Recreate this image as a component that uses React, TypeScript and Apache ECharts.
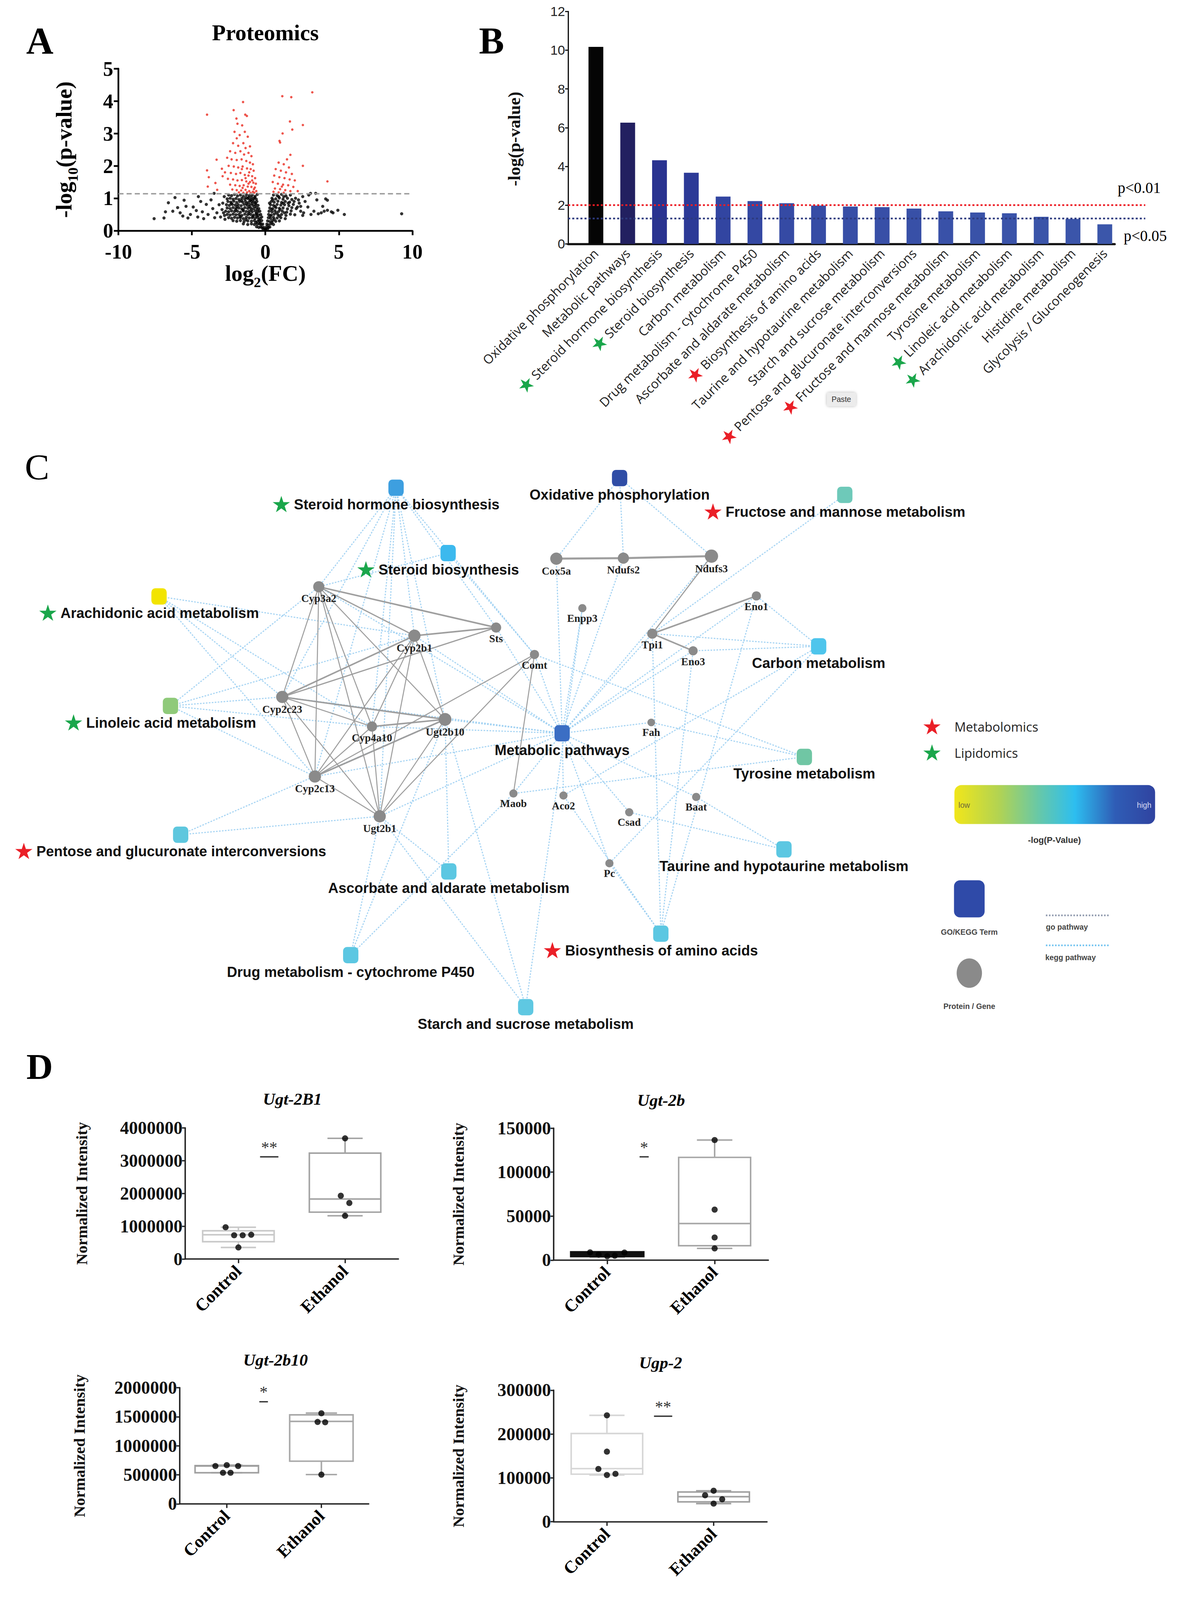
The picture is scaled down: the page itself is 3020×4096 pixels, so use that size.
import React, { useEffect, useRef } from "react";
import * as echarts from "echarts";

const W = 3020;
const H = 4096;
const K = W / 1156;
const f = (s: number) => s * K;

const SERIF = "'Liberation Serif', 'Times New Roman', serif";
const SANS = "'Liberation Sans', Arial, sans-serif";
const NARROW = "'Liberation Sans Narrow', 'Liberation Sans', Arial, sans-serif";
const OPEN = "'Open Sans', 'Noto Sans', sans-serif";
const STARF = "'DejaVu Sans', sans-serif";
const GREEN = "#1aa64b";
const RED = "#ea1f27";

// ---------------- Panel A : volcano ----------------
const volcanoThreshold = 1.14;
const volcanoSignificant: number[][] = [
  [-3.97, 3.58], [-2.16, 3.72], [-1.52, 3.97], [-1.97, 3.46], [-1.37, 3.58], [-1.26, 3.54], [-1.9, 3.3], [-1.58, 3.25],
  [-3.32, 2.19], [-3.97, 1.86], [-3.85, 1.65], [-3.92, 1.36], [-3.28, 1.26], [-2.96, 1.91], [-2.91, 1.68], [-3.4, 1.47],
  [-2.1, 3.05], [-1.95, 2.85], [-1.75, 2.95], [-1.4, 3.05], [-1.2, 2.9], [-2.2, 2.7], [-1.85, 2.62], [-1.5, 2.7], [-1.35, 2.55],
  [-1.05, 2.6], [-2.4, 2.45], [-2.05, 2.4], [-1.7, 2.45], [-1.45, 2.35], [-1.15, 2.4], [-0.95, 2.3],
  [-2.6, 2.25], [-2.3, 2.2], [-1.95, 2.18], [-1.62, 2.2], [-1.3, 2.15], [-1.05, 2.1], [-0.85, 2.05],
  [-2.5, 2.0], [-2.15, 1.98], [-1.85, 1.95], [-1.55, 1.98], [-1.25, 1.92], [-1.0, 1.9], [-0.8, 1.85],
  [-2.75, 1.8], [-2.35, 1.78], [-2.0, 1.75], [-1.7, 1.78], [-1.4, 1.72], [-1.15, 1.7], [-0.9, 1.68], [-0.7, 1.62],
  [-2.55, 1.6], [-2.2, 1.58], [-1.9, 1.55], [-1.6, 1.56], [-1.3, 1.52], [-1.05, 1.5], [-0.82, 1.48], [-0.65, 1.45],
  [-2.4, 1.42], [-2.05, 1.4], [-1.75, 1.38], [-1.48, 1.4], [-1.2, 1.36], [-0.95, 1.35], [-0.72, 1.33],
  [-2.25, 1.27], [-1.95, 1.25], [-1.65, 1.24], [-1.35, 1.26], [-1.1, 1.22], [-0.85, 1.2], [-0.62, 1.22],
  [-1.8, 1.18], [-1.5, 1.17], [-1.25, 1.18], [-1.0, 1.16], [-0.75, 1.17],
  [-1.6, 1.9], [-1.1, 1.8], [-1.35, 1.62], [-0.9, 1.55], [-1.55, 1.32], [-1.15, 1.45], [-0.78, 1.28],
  [1.15, 4.15], [1.76, 4.12], [3.19, 4.27], [1.67, 3.37], [2.55, 3.26], [1.83, 3.12], [1.17, 3.0], [0.96, 2.77], [1.0, 2.72],
  [2.55, 2.0], [4.22, 1.52], [1.7, 2.34], [1.47, 2.2],
  [0.9, 2.1], [1.25, 2.05], [1.6, 1.95], [0.7, 1.9], [1.05, 1.85], [1.4, 1.8], [1.8, 1.75], [0.6, 1.7], [0.95, 1.65],
  [1.3, 1.62], [1.65, 1.58], [2.0, 1.55], [0.5, 1.5], [0.85, 1.45], [1.2, 1.42], [1.55, 1.4], [1.9, 1.35], [0.65, 1.3],
  [1.0, 1.28], [1.35, 1.25], [1.7, 1.22], [0.55, 1.2], [0.9, 1.18], [1.25, 1.17], [2.2, 1.22], [1.12, 1.36],
];
const volcanoOther: number[][] = [
  [-7.57, 0.37], [-6.9, 0.39], [-6.6, 0.86], [-6.15, 1.02], [-5.97, 0.71], [-5.53, 0.94], [-5.62, 0.45], [-5.27, 0.39],
  [-4.91, 0.73], [-4.56, 1.05], [-4.29, 0.58], [-4.2, 0.37], [-4.02, 0.81], [-3.58, 0.68], [-3.49, 1.15], [-3.05, 0.42],
  [-2.78, 0.47], [9.27, 0.52], [5.37, 0.5], [4.93, 0.63], [4.22, 0.94], [4.22, 0.63], [4.49, 0.58], [3.6, 0.52],
  [3.42, 1.15], [3.07, 1.15], [2.54, 1.05], [2.54, 0.47], [2.18, 0.73], [2.89, 0.73],
  [-6.3, 0.6], [-5.8, 0.55], [-5.1, 0.5], [-4.7, 0.62], [-4.4, 0.9], [-3.9, 0.5], [-3.7, 0.95], [-3.3, 0.55],
  [-3.15, 0.8], [-2.95, 0.65], [-3.45, 0.4], [-4.6, 0.42], [-6.8, 0.58], [-5.4, 0.75],
  [2.7, 0.9], [2.95, 1.1], [3.3, 0.6], [3.8, 0.55], [4.0, 0.6], [4.6, 0.55], [3.1, 0.5], [2.4, 0.6], [2.3, 0.85],
  [2.05, 1.0], [2.6, 0.55], [3.5, 0.95], [4.1, 0.98], [3.9, 0.75],
  [-2.5, 1.1], [-2.3, 1.08], [-2.1, 1.12], [-1.9, 1.07], [-1.7, 1.1], [-1.5, 1.06], [-1.3, 1.11], [-1.1, 1.08], [-0.9, 1.1], [-0.7, 1.06], [-0.55, 1.12],
  [-2.6, 0.98], [-2.4, 1.0], [-2.2, 0.97], [-2.0, 0.99], [-1.8, 0.96], [-1.6, 1.0], [-1.4, 0.97], [-1.2, 0.99], [-1.0, 0.96], [-0.8, 0.99], [-0.62, 0.97],
  [-2.55, 0.9], [-2.35, 0.88], [-2.15, 0.91], [-1.95, 0.87], [-1.75, 0.9], [-1.55, 0.88], [-1.35, 0.9], [-1.15, 0.87], [-0.95, 0.9], [-0.75, 0.88], [-0.58, 0.9],
  [-2.65, 0.8], [-2.45, 0.78], [-2.25, 0.81], [-2.05, 0.79], [-1.85, 0.8], [-1.65, 0.77], [-1.45, 0.81], [-1.25, 0.79], [-1.05, 0.8], [-0.85, 0.78], [-0.65, 0.81], [-0.5, 0.78],
  [-2.6, 0.7], [-2.4, 0.68], [-2.2, 0.71], [-2.0, 0.69], [-1.8, 0.7], [-1.6, 0.67], [-1.4, 0.71], [-1.2, 0.69], [-1.0, 0.7], [-0.8, 0.68], [-0.6, 0.71], [-0.45, 0.68],
  [-2.7, 0.6], [-2.5, 0.58], [-2.3, 0.61], [-2.1, 0.59], [-1.9, 0.6], [-1.7, 0.57], [-1.5, 0.61], [-1.3, 0.59], [-1.1, 0.6], [-0.9, 0.58], [-0.7, 0.61], [-0.5, 0.58], [-0.38, 0.6],
  [-2.6, 0.5], [-2.4, 0.48], [-2.2, 0.51], [-2.0, 0.49], [-1.8, 0.5], [-1.6, 0.47], [-1.4, 0.51], [-1.2, 0.49], [-1.0, 0.5], [-0.8, 0.48], [-0.6, 0.51], [-0.45, 0.48], [-0.32, 0.5],
  [-2.5, 0.4], [-2.3, 0.38], [-2.1, 0.41], [-1.9, 0.39], [-1.7, 0.4], [-1.5, 0.37], [-1.3, 0.41], [-1.1, 0.39], [-0.9, 0.4], [-0.7, 0.38], [-0.52, 0.41], [-0.35, 0.38], [-0.25, 0.42],
  [-2.2, 0.31], [-1.95, 0.29], [-1.7, 0.31], [-1.45, 0.28], [-1.2, 0.3], [-0.95, 0.29], [-0.75, 0.31], [-0.55, 0.28], [-0.4, 0.3], [-0.25, 0.31],
  [-1.5, 0.21], [-1.2, 0.19], [-0.95, 0.21], [-0.75, 0.19], [-0.55, 0.2], [-0.4, 0.21], [-0.28, 0.18], [-0.18, 0.2],
  [-0.6, 0.12], [-0.45, 0.1], [-0.32, 0.11], [-0.22, 0.09], [-0.12, 0.1], [-0.05, 0.05], [0.05, 0.06], [0.0, 0.02], [-0.15, 0.04], [0.15, 0.05],
  [-1.15, 1.02], [-0.95, 1.03], [-0.72, 1.02], [-1.05, 0.93], [-0.85, 0.94], [-0.68, 0.85], [-0.9, 0.84], [-1.1, 0.74], [-0.72, 0.75],
  [-0.55, 0.64], [-0.95, 0.64], [-0.62, 0.54], [-0.85, 0.44], [-0.6, 0.45], [-0.45, 0.34], [-0.65, 0.25], [-0.35, 0.24],
  [-2.85, 0.55], [-2.9, 0.85], [-2.8, 1.05], [-2.75, 0.35],
  [-1.32, 1.02], [-1.62, 0.93], [-1.28, 0.84], [-1.92, 0.74], [-1.52, 0.64], [-1.12, 0.54], [-1.72, 0.44], [-1.32, 0.34], [-2.02, 0.64], [-2.32, 0.84],
  [0.55, 1.1], [0.8, 1.08], [1.1, 1.12], [1.4, 1.07], [1.7, 1.1],
  [0.45, 1.0], [0.7, 0.98], [0.95, 1.01], [1.2, 0.97], [1.5, 1.0], [1.8, 0.96],
  [0.4, 0.9], [0.6, 0.88], [0.85, 0.91], [1.1, 0.87], [1.35, 0.9], [1.65, 0.88], [1.95, 0.9],
  [0.35, 0.8], [0.55, 0.78], [0.8, 0.81], [1.05, 0.79], [1.3, 0.8], [1.6, 0.77], [1.9, 0.81],
  [0.3, 0.7], [0.5, 0.68], [0.72, 0.71], [0.95, 0.69], [1.2, 0.7], [1.5, 0.67], [1.8, 0.71], [2.1, 0.68],
  [0.25, 0.6], [0.45, 0.58], [0.65, 0.61], [0.9, 0.59], [1.15, 0.6], [1.45, 0.57], [1.75, 0.61],
  [0.22, 0.5], [0.4, 0.48], [0.6, 0.51], [0.85, 0.49], [1.1, 0.5], [1.4, 0.47], [1.7, 0.51], [2.0, 0.49],
  [0.2, 0.4], [0.35, 0.38], [0.55, 0.41], [0.8, 0.39], [1.05, 0.4], [1.35, 0.37],
  [0.15, 0.3], [0.3, 0.28], [0.48, 0.31], [0.7, 0.29], [0.95, 0.3],
  [0.1, 0.2], [0.22, 0.18], [0.38, 0.21], [0.55, 0.19], [0.08, 0.12], [0.2, 0.1], [0.3, 0.11],
  [0.5, 0.95], [0.65, 0.75], [0.42, 0.65], [0.75, 0.55], [0.33, 0.45], [0.6, 0.35], [0.28, 0.85], [0.9, 1.05],
  [1.25, 1.05], [1.55, 0.85], [2.25, 0.95], [2.4, 0.75], [1.2, 0.85], [1.0, 0.65], [1.3, 0.55], [0.95, 0.45], [0.45, 0.25],
];

// ---------------- Panel B : enrichment bars ----------------
const pathwayNames = [
  "Oxidative phosphorylation", "Metabolic pathways", "Steroid hormone biosynthesis", "Steroid biosynthesis",
  "Carbon metabolism", "Drug metabolism - cytochrome P450", "Ascorbate and aldarate metabolism",
  "Biosynthesis of amino acids", "Taurine and hypotaurine metabolism", "Starch and sucrose metabolism",
  "Pentose and glucuronate interconversions", "Fructose and mannose metabolism", "Tyrosine metabolism",
  "Linoleic acid metabolism", "Arachidonic acid metabolism", "Histidine metabolism", "Glycolysis / Gluconeogenesis",
];
const pathwayScores = [10.17, 6.26, 4.32, 3.67, 2.44, 2.21, 2.1, 1.98, 1.93, 1.9, 1.82, 1.68, 1.62, 1.58, 1.4, 1.29, 1.01];
const pathwayBarColors = [
  "#050505", "#222060", "#2a3390", "#2c3a97", "#3245a1", "#3448a3", "#354aa4", "#364ca5", "#374ea6",
  "#384fa7", "#3850a7", "#3951a8", "#3952a8", "#3a53a9", "#3a54a9", "#3b55aa", "#3b56aa",
];
const lipidomicsPathwayIdx = [2, 3, 13, 14];
const metabolomicsPathwayIdx = [7, 10, 11];
const pCutoffValues = [2, 1.31];
const pCutoffLabels = ["p<0.01", "p<0.05"];
const bTicks = { max: 12, step: 2 };

// ---------------- Panel C : network ----------------
// [name, x, y, colour, omics mark]
const termNodes: [string, number, number, string, string][] = [
  ["Oxidative phosphorylation", 607, 468.5, "#2f4da6", ""],
  ["Steroid hormone biosynthesis", 388, 478, "#3d9fe0", "l"],
  ["Fructose and mannose metabolism", 827.6, 485, "#6ec9b9", "m"],
  ["Steroid biosynthesis", 439, 542, "#3cb9ee", "l"],
  ["Arachidonic acid metabolism", 155.8, 584.5, "#f2e400", "l"],
  ["Carbon metabolism", 802, 633.4, "#4ec5ec", ""],
  ["Linoleic acid metabolism", 167, 691.8, "#8fca7a", "l"],
  ["Metabolic pathways", 550.7, 718.6, "#3b6ec4", ""],
  ["Tyrosine metabolism", 788, 741.8, "#70c6a4", ""],
  ["Pentose and glucuronate interconversions", 177, 818, "#5ec7de", "m"],
  ["Taurine and hypotaurine metabolism", 768, 832.4, "#5cc7e2", ""],
  ["Ascorbate and aldarate metabolism", 439.7, 854, "#5cc7e2", ""],
  ["Drug metabolism - cytochrome P450", 343.6, 936, "#5cc7e2", ""],
  ["Biosynthesis of amino acids", 647.4, 915, "#5cc7e2", "m"],
  ["Starch and sucrose metabolism", 515, 987, "#5fc8e2", ""],
];
// [name, x, y, diameter]
const geneNodes: [string, number, number, number][] = [
  ["Cox5a", 545, 547.5, 12], ["Ndufs2", 610.7, 547, 11], ["Ndufs3", 697, 545, 13], ["Cyp3a2", 312.3, 575, 11],
  ["Enpp3", 570.5, 596, 8], ["Eno1", 741, 584, 9], ["Sts", 486, 615, 10], ["Cyp2b1", 406, 623, 12],
  ["Tpi1", 639, 621, 10], ["Eno3", 679, 637.8, 9], ["Comt", 523.6, 641.4, 9], ["Cyp2c23", 276.5, 683, 12],
  ["Cyp4a10", 364.4, 712, 10], ["Ugt2b10", 436, 705, 12.5], ["Fah", 638, 708, 7.5], ["Cyp2c13", 308.5, 761, 12],
  ["Maob", 503, 777.6, 8], ["Aco2", 552, 779.6, 8], ["Ugt2b1", 372, 800, 12], ["Csad", 616.4, 796, 8],
  ["Baat", 682, 781, 8], ["Pc", 597, 846, 8],
];
const ppiLinks: [string, string, number][] = [
  ["Cox5a", "Ndufs2", 2], ["Ndufs2", "Ndufs3", 2], ["Ndufs3", "Tpi1", 1.1], ["Tpi1", "Eno1", 1.5], ["Tpi1", "Eno3", 1.5],
  ["Cyp3a2", "Cyp2b1", 1.2], ["Cyp3a2", "Sts", 1.5], ["Cyp3a2", "Cyp2c23", 1], ["Cyp3a2", "Cyp4a10", 1],
  ["Cyp3a2", "Cyp2c13", 1], ["Cyp3a2", "Ugt2b10", 1], ["Cyp3a2", "Ugt2b1", 1],
  ["Cyp2b1", "Sts", 1.5], ["Cyp2b1", "Cyp2c23", 1.5], ["Cyp2b1", "Cyp4a10", 1], ["Cyp2b1", "Cyp2c13", 1],
  ["Cyp2b1", "Ugt2b1", 1], ["Cyp2b1", "Ugt2b10", 1], ["Sts", "Cyp2c23", 1.2],
  ["Cyp2c23", "Ugt2b10", 1.5], ["Cyp2c23", "Cyp4a10", 1], ["Cyp2c23", "Cyp2c13", 1], ["Cyp2c23", "Ugt2b1", 1],
  ["Cyp4a10", "Ugt2b10", 1.5], ["Cyp4a10", "Cyp2c13", 1], ["Cyp4a10", "Ugt2b1", 1],
  ["Ugt2b10", "Cyp2c13", 1.5], ["Ugt2b10", "Ugt2b1", 1], ["Cyp2c13", "Ugt2b1", 1],
  ["Comt", "Cyp2c13", 1], ["Comt", "Ugt2b1", 1], ["Comt", "Maob", 1],
];
const keggLinks: [string, string][] = [
  ["Oxidative phosphorylation", "Cox5a"], ["Oxidative phosphorylation", "Ndufs2"], ["Oxidative phosphorylation", "Ndufs3"],
  ["Steroid hormone biosynthesis", "Cyp3a2"], ["Steroid hormone biosynthesis", "Cyp2b1"], ["Steroid hormone biosynthesis", "Cyp2c23"],
  ["Steroid hormone biosynthesis", "Cyp4a10"], ["Steroid hormone biosynthesis", "Cyp2c13"], ["Steroid hormone biosynthesis", "Ugt2b10"],
  ["Steroid hormone biosynthesis", "Ugt2b1"], ["Steroid hormone biosynthesis", "Sts"], ["Steroid hormone biosynthesis", "Comt"],
  ["Steroid biosynthesis", "Cyp3a2"], ["Steroid biosynthesis", "Comt"],
  ["Arachidonic acid metabolism", "Cyp2b1"], ["Arachidonic acid metabolism", "Cyp2c23"], ["Arachidonic acid metabolism", "Cyp4a10"],
  ["Arachidonic acid metabolism", "Cyp2c13"],
  ["Linoleic acid metabolism", "Cyp3a2"], ["Linoleic acid metabolism", "Cyp2c23"], ["Linoleic acid metabolism", "Cyp2b1"],
  ["Linoleic acid metabolism", "Cyp2c13"], ["Linoleic acid metabolism", "Cyp4a10"],
  ["Pentose and glucuronate interconversions", "Ugt2b1"], ["Pentose and glucuronate interconversions", "Ugt2b10"],
  ["Ascorbate and aldarate metabolism", "Ugt2b1"], ["Ascorbate and aldarate metabolism", "Ugt2b10"],
  ["Drug metabolism - cytochrome P450", "Ugt2b1"], ["Drug metabolism - cytochrome P450", "Ugt2b10"], ["Drug metabolism - cytochrome P450", "Maob"],
  ["Starch and sucrose metabolism", "Ugt2b1"], ["Starch and sucrose metabolism", "Ugt2b10"], ["Starch and sucrose metabolism", "Enpp3"],
  ["Biosynthesis of amino acids", "Pc"], ["Biosynthesis of amino acids", "Tpi1"], ["Biosynthesis of amino acids", "Eno1"],
  ["Biosynthesis of amino acids", "Eno3"], ["Biosynthesis of amino acids", "Aco2"],
  ["Taurine and hypotaurine metabolism", "Csad"], ["Taurine and hypotaurine metabolism", "Baat"],
  ["Tyrosine metabolism", "Fah"], ["Tyrosine metabolism", "Maob"], ["Tyrosine metabolism", "Comt"],
  ["Carbon metabolism", "Tpi1"], ["Carbon metabolism", "Eno3"], ["Carbon metabolism", "Eno1"], ["Carbon metabolism", "Aco2"], ["Carbon metabolism", "Pc"],
  ["Fructose and mannose metabolism", "Tpi1"],
  ["Metabolic pathways", "Cox5a"], ["Metabolic pathways", "Ndufs2"], ["Metabolic pathways", "Ndufs3"], ["Metabolic pathways", "Enpp3"],
  ["Metabolic pathways", "Comt"], ["Metabolic pathways", "Tpi1"], ["Metabolic pathways", "Eno1"], ["Metabolic pathways", "Eno3"],
  ["Metabolic pathways", "Fah"], ["Metabolic pathways", "Maob"], ["Metabolic pathways", "Aco2"], ["Metabolic pathways", "Csad"],
  ["Metabolic pathways", "Baat"], ["Metabolic pathways", "Pc"], ["Metabolic pathways", "Cyp2b1"], ["Metabolic pathways", "Cyp3a2"],
  ["Metabolic pathways", "Ugt2b10"], ["Metabolic pathways", "Ugt2b1"], ["Metabolic pathways", "Cyp2c23"], ["Metabolic pathways", "Sts"],
  ["Metabolic pathways", "Cyp4a10"], ["Metabolic pathways", "Cyp2c13"],
];

// ---------------- Panel D : box plots ----------------
const groups = ["Control", "Ethanol"];
// [group, min, q1, median, q3, max]
const ugt2b1Box = [[0, 355000, 530000, 742000, 864000, 970000], [1, 1320000, 1430000, 1830000, 3230000, 3680000]];
const ugt2b1Points = [[-0.12, 970000], [-0.04, 726000], [0.04, 726000], [0.12, 742000], [0, 355000], [1, 3680000], [0.96, 1930000], [1.04, 1710000], [1, 1320000]];
const ugt2b1Sig = { mark: "**", y: 3120000, x: [0.203, 0.375] };

const ugt2bBox = [[0, 4400, 4700, 6200, 8700, 8800], [1, 13300, 16400, 41600, 116800, 136500]];
const ugt2bPoints = [[-0.16, 8800], [-0.08, 6200], [0, 4400], [0.07, 5000], [0.16, 8600], [1, 136500], [1, 57400], [1, 25700], [1, 13300]];
const ugt2bSig = { mark: "*", y: 117400, x: [0.301, 0.386] };

const ugt2b10Box = [[0, 535700, 535700, 651700, 659000, 666700], [1, 505000, 735000, 1419600, 1532600, 1562000]];
const ugt2b10Points = [[-0.12, 651700], [0, 666700], [0.12, 651700], [-0.04, 535700], [0.04, 535700], [1, 1559000], [0.96, 1410000], [1.04, 1404600], [1, 503000]];
const ugt2b10Sig = { mark: "*", y: 1761000, x: [0.344, 0.435] };

const ugp2Box = [[0, 106600, 108500, 121200, 201300, 242700], [1, 41400, 45400, 57200, 67900, 70700]];
const ugp2Points = [[0, 242700], [0, 159900], [-0.08, 120400], [0, 106600], [0.08, 109300], [1, 70700], [0.92, 60400], [1.08, 51300], [1, 41400]];
const ugp2Sig = { mark: "**", y: 240600, x: [0.441, 0.612] };

function buildOption(): any {
  const grid: any[] = [];
  const xAxis: any[] = [];
  const yAxis: any[] = [];
  const series: any[] = [];
  const addGrid = (l: number, t: number, w: number, h: number) => {
    grid.push({ left: f(l), top: f(t), width: f(w), height: f(h), containLabel: false });
    return grid.length - 1;
  };
  const hiddenVal = (gi: number, min: number, max: number, extra: any = {}) => ({
    gridIndex: gi, type: "value", min, max, show: false, splitLine: { show: false }, axisLine: { onZero: false }, ...extra,
  });

  // ---- A
  const gA = addGrid(116, 67.3, 288, 158.7);
  const richA = {
    a: { fontFamily: SERIF, fontWeight: "bold", fontSize: f(22), color: "#000", verticalAlign: "bottom", padding: [0, 0, f(5), 0] },
    b: { fontFamily: SERIF, fontWeight: "bold", fontSize: f(14), color: "#000", verticalAlign: "bottom" },
  };
  xAxis.push({
    gridIndex: gA, type: "value", min: -10, max: 10, interval: 5,
    axisLine: { show: true, onZero: false, lineStyle: { color: "#000", width: f(1.7) } },
    axisTick: { show: true, length: f(4.5), lineStyle: { color: "#000", width: f(1.7) } },
    axisLabel: { fontFamily: SERIF, fontWeight: "bold", fontSize: f(20), color: "#000", margin: f(10.5) },
    splitLine: { show: false },
    name: "{a|log}{b|2}{a|(FC)}", nameLocation: "middle", nameGap: f(36),
    nameTextStyle: { rich: richA, align: "center", verticalAlign: "middle" },
  });
  const xA = xAxis.length - 1;
  yAxis.push({
    gridIndex: gA, type: "value", min: 0, max: 5, interval: 1,
    axisLine: { show: true, onZero: false, lineStyle: { color: "#000", width: f(1.7) } },
    axisTick: { show: true, length: f(4.5), lineStyle: { color: "#000", width: f(1.7) } },
    axisLabel: { fontFamily: SERIF, fontWeight: "bold", fontSize: f(20), color: "#000", margin: f(5) },
    splitLine: { show: false },
    name: "{a|-log}{b|10}{a|(p-value)}", nameLocation: "middle", nameRotate: 90, nameGap: f(51),
    nameTextStyle: { rich: richA, align: "center", verticalAlign: "middle" },
  });
  const yA = yAxis.length - 1;
  series.push({
    type: "scatter", xAxisIndex: xA, yAxisIndex: yA, data: volcanoOther, symbolSize: f(3.1),
    itemStyle: { color: "#000" }, silent: true, z: 3,
    markLine: {
      silent: true, symbol: "none", label: { show: false },
      lineStyle: { color: "#9a9a9a", width: f(1.4), type: [f(5), f(3)] },
      data: [{ yAxis: volcanoThreshold }],
    },
  });
  series.push({
    type: "scatter", xAxisIndex: xA, yAxisIndex: yA, data: volcanoSignificant, symbolSize: f(2.4),
    itemStyle: { color: "#ea2a1f" }, silent: true, z: 4,
  });

  // ---- B
  const bTop = 11.2, bH = 227.8;
  const gB1 = addGrid(568.2, bTop, 529.7, bH);
  xAxis.push({
    gridIndex: gB1, type: "category", data: pathwayNames,
    axisLine: { show: false }, axisTick: { show: false },
    axisLabel: {
      interval: 0, rotate: 45, margin: f(7), color: "#222", fontFamily: OPEN, fontSize: f(12.5),
      formatter: (v: string, i: number) => {
        if (lipidomicsPathwayIdx.indexOf(i) >= 0) return "{g|★}{t|" + v + "}";
        if (metabolomicsPathwayIdx.indexOf(i) >= 0) return "{r|★}{t|" + v + "}";
        return "{t|" + v + "}";
      },
      rich: {
        t: { fontFamily: OPEN, fontSize: f(12.5), color: "#222" },
        g: { fontFamily: STARF, fontSize: f(19), color: GREEN, padding: [0, f(2), 0, 0] },
        r: { fontFamily: STARF, fontSize: f(19), color: RED, padding: [0, f(2), 0, 0] },
      },
    },
  });
  const xB1 = xAxis.length - 1;
  yAxis.push(hiddenVal(gB1, 0, bTicks.max));
  const yB1 = yAxis.length - 1;
  series.push({
    type: "bar", xAxisIndex: xB1, yAxisIndex: yB1, barWidth: f(14.5), silent: true,
    data: pathwayScores.map((v, i) => ({ value: v, itemStyle: { color: pathwayBarColors[i] } })),
  });

  const gB2 = addGrid(556.6, bTop, 535.4, bH);
  xAxis.push({
    gridIndex: gB2, type: "value", min: 0, max: 1, splitLine: { show: false },
    axisLine: { show: true, onZero: false, lineStyle: { color: "#111", width: f(2.2) } },
    axisTick: { show: false }, axisLabel: { show: false },
  });
  yAxis.push({
    gridIndex: gB2, type: "value", min: 0, max: bTicks.max, interval: bTicks.step, splitLine: { show: false },
    axisLine: { show: true, onZero: false, lineStyle: { color: "#111", width: f(1.2) } },
    axisTick: { show: true, length: f(3), lineStyle: { color: "#111", width: f(1.1) } },
    axisLabel: { fontFamily: NARROW, fontSize: f(13), color: "#222", margin: f(3) },
    name: "-log(p-value)", nameLocation: "middle", nameRotate: 90, nameGap: f(53),
    nameTextStyle: { fontFamily: SERIF, fontWeight: "bold", fontSize: f(17), color: "#111", align: "center", verticalAlign: "middle", padding: [0, f(22), 0, 0] },
  });

  const gB3 = addGrid(556.6, bTop, 565.4, bH);
  xAxis.push(hiddenVal(gB3, 0, 1));
  const xB3 = xAxis.length - 1;
  yAxis.push(hiddenVal(gB3, 0, bTicks.max));
  const yB3 = yAxis.length - 1;
  const cutColors = ["#ec1c24", "#2d3a7e"];
  pCutoffValues.forEach((v, i) => {
    series.push({
      type: "line", xAxisIndex: xB3, yAxisIndex: yB3, data: [[0, v], [1, v]], showSymbol: false, silent: true,
      lineStyle: { color: cutColors[i], width: f(1.6), type: [f(2), f(2)] }, z: 5,
    });
  });

  // ---- C network (page-wide coordinate system in reference units)
  const gC = addGrid(0, 0, 1156, 1568);
  xAxis.push(hiddenVal(gC, 0, 1156));
  const xC = xAxis.length - 1;
  yAxis.push(hiddenVal(gC, 0, 1568, { inverse: true }));
  const yC = yAxis.length - 1;
  const starW = 20.9;
  const nodes: any[] = [];
  termNodes.forEach(([name, x, y, color, mark]) => {
    const starColor = mark === "m" ? RED : GREEN;
    nodes.push({
      name, value: [x, y], symbol: "roundRect", symbolSize: [f(15), f(16)], itemStyle: { color },
      label: {
        show: true, position: "bottom", distance: f(0.5),
        formatter: mark ? "{s|★}{t|" + name + "}" : "{u|" + name + "}",
        rich: {
          s: { fontFamily: STARF, fontSize: f(22), color: starColor, lineHeight: f(16), verticalAlign: "middle", padding: [0, f(2.5), 0, 0] },
          t: { fontFamily: SANS, fontWeight: "bold", fontSize: f(14), color: "#111", lineHeight: f(16), verticalAlign: "middle", padding: [0, f(starW), 0, 0] },
          u: { fontFamily: SANS, fontWeight: "bold", fontSize: f(14), color: "#111", lineHeight: f(16), verticalAlign: "middle" },
        },
      },
    });
  });
  geneNodes.forEach(([name, x, y, d]) => {
    nodes.push({
      name, value: [x, y], symbol: "circle", symbolSize: f(d), itemStyle: { color: "#8a8a8a" },
      label: {
        show: true, position: "bottom", distance: f(0.5), fontFamily: SERIF, fontWeight: "bold",
        fontSize: f(10.5), color: "#222", lineHeight: f(11),
      },
    });
  });
  const links: any[] = [
    ...keggLinks.map(([s, t]) => ({
      source: s, target: t,
      lineStyle: { color: "#9ccff2", width: f(1.1), type: [f(1.6), f(1.3)], opacity: 0.9, curveness: 0 },
    })),
    ...ppiLinks.map(([s, t, w]) => ({
      source: s, target: t, lineStyle: { color: "#9a9a9a", width: f(w), type: "solid", opacity: 0.95, curveness: 0 },
    })),
  ];
  series.push({
    type: "graph", layout: "none", coordinateSystem: "cartesian2d", xAxisIndex: xC, yAxisIndex: yC,
    data: nodes, links, roam: false, silent: true, edgeSymbol: ["none", "none"], z: 2,
    labelLayout: { hideOverlap: false },
  });

  // ---- D box plots
  const dPanels = [
    { g: [181.3, 1105.2, 209, 128.6], max: 4000000, step: 1000000, gap: 101, box: ugt2b1Box, pts: ugt2b1Points, sig: ugt2b1Sig, col: ["#c9c9c9", "#a3a3a3"], lw: [1.5, 1.5] },
    { g: [542.3, 1105.5, 210.4, 129.3], max: 150000, step: 50000, gap: 93, box: ugt2bBox, pts: ugt2bPoints, sig: ugt2bSig, col: ["#111111", "#a8a8a8"], lw: [2.6, 1.5] },
    { g: [175.8, 1359.8, 185.4, 113.9], max: 2000000, step: 500000, gap: 98, box: ugt2b10Box, pts: ugt2b10Points, sig: ugt2b10Sig, col: ["#a0a0a0", "#a8a8a8"], lw: [1.5, 1.5] },
    { g: [542.3, 1362.3, 209.1, 128.9], max: 300000, step: 100000, gap: 93, box: ugp2Box, pts: ugp2Points, sig: ugp2Sig, col: ["#d6d6d6", "#a0a0a0"], lw: [1.5, 1.5] },
  ];
  dPanels.forEach((p) => {
    const gi = addGrid(p.g[0], p.g[1], p.g[2], p.g[3]);
    xAxis.push({
      gridIndex: gi, type: "category", data: groups, boundaryGap: true,
      axisLine: { show: true, lineStyle: { color: "#222", width: f(1.4) } },
      axisTick: { show: true, alignWithLabel: true, length: f(4), lineStyle: { color: "#222", width: f(1.3) } },
      axisLabel: { rotate: 45, interval: 0, margin: f(9), fontFamily: SERIF, fontWeight: "bold", fontSize: f(17), color: "#000" },
    });
    const xc = xAxis.length - 1;
    xAxis.push(hiddenVal(gi, -0.5, 1.5));
    const xv = xAxis.length - 1;
    yAxis.push({
      gridIndex: gi, type: "value", min: 0, max: p.max, interval: p.step, splitLine: { show: false },
      axisLine: { show: true, onZero: false, lineStyle: { color: "#222", width: f(1.4) } },
      axisTick: { show: true, length: f(3), lineStyle: { color: "#222", width: f(1.3) } },
      axisLabel: {
        fontFamily: SERIF, fontWeight: "bold", fontSize: f(17.5), color: "#111", margin: f(2.5),
        formatter: (v: number) => String(v),
      },
      name: "Normalized Intensity", nameLocation: "middle", nameRotate: 90, nameGap: f(p.gap),
      nameTextStyle: { fontFamily: SERIF, fontWeight: "bold", fontSize: f(15.5), color: "#111", align: "center", verticalAlign: "middle" },
    });
    const yi = yAxis.length - 1;
    const col = p.col, lw = p.lw;
    series.push({
      type: "custom", xAxisIndex: xc, yAxisIndex: yi, silent: true, z: 3,
      data: p.box, encode: { x: 0, y: [1, 2, 3, 4, 5] },
      renderItem: (params: any, api: any) => {
        const c = api.value(0);
        const pMin = api.coord([c, api.value(1)]);
        const cx = pMin[0];
        const yMin = pMin[1];
        const yQ1 = api.coord([c, api.value(2)])[1];
        const yMed = api.coord([c, api.value(3)])[1];
        const yQ3 = api.coord([c, api.value(4)])[1];
        const yMax = api.coord([c, api.value(5)])[1];
        const band = api.size([1, 0])[0];
        const bw = band * 0.67;
        const cw = band * 0.33;
        const st = { stroke: col[params.dataIndex], lineWidth: f(lw[params.dataIndex]), fill: "none" };
        return {
          type: "group",
          children: [
            { type: "line", shape: { x1: cx, y1: yQ3, x2: cx, y2: yMax }, style: st },
            { type: "line", shape: { x1: cx, y1: yQ1, x2: cx, y2: yMin }, style: st },
            { type: "line", shape: { x1: cx - cw / 2, y1: yMax, x2: cx + cw / 2, y2: yMax }, style: st },
            { type: "line", shape: { x1: cx - cw / 2, y1: yMin, x2: cx + cw / 2, y2: yMin }, style: st },
            { type: "rect", shape: { x: cx - bw / 2, y: yQ3, width: bw, height: Math.max(yQ1 - yQ3, 0.1) }, style: st },
            { type: "line", shape: { x1: cx - bw / 2, y1: yMed, x2: cx + bw / 2, y2: yMed }, style: st },
          ],
        };
      },
    });
    series.push({
      type: "scatter", xAxisIndex: xv, yAxisIndex: yi, data: p.pts, symbolSize: f(6), silent: true, z: 5,
      itemStyle: { color: "#000" },
      markLine: {
        silent: true, symbol: "none",
        lineStyle: { color: "#333", width: f(1.3), type: "solid" },
        label: {
          show: true, position: "insideMiddleTop", distance: f(1), formatter: p.sig.mark,
          fontFamily: SERIF, fontSize: f(16), color: "#333",
        },
        data: [[{ coord: [p.sig.x[0], p.sig.y] }, { coord: [p.sig.x[1], p.sig.y] }]],
      },
    });
  });

  // ---- annotation graphics (panel letters, titles, legends)
  const txt = (text: string, x: number, y: number, size: number, opts: any = {}) => ({
    type: "text", silent: true, z: 50,
    style: {
      text, x: f(x), y: f(y), fontSize: f(size), fontFamily: opts.family || SERIF,
      fontWeight: opts.weight || "normal", fontStyle: opts.style || "normal", fill: opts.fill || "#000",
      align: opts.align || "center", verticalAlign: "middle", textAlign: opts.align || "center", textVerticalAlign: "middle",
    },
  });
  const gradStops = [
    { offset: 0, color: "#f1e61a" }, { offset: 0.22, color: "#b2d352" }, { offset: 0.42, color: "#67c8a8" },
    { offset: 0.6, color: "#2dbef0" }, { offset: 0.8, color: "#2f5db6" }, { offset: 1, color: "#3043a0" },
  ];
  const graphic: any[] = [
    txt("A", 39, 40, 37, { weight: "bold" }),
    txt("Proteomics", 260, 32, 22, { weight: "bold" }),
    txt("B", 481.5, 40, 37, { weight: "bold" }),
    txt(pCutoffLabels[0], 1116, 184, 15),
    txt(pCutoffLabels[1], 1122, 231, 15),
    {
      type: "rect", silent: true, z: 50,
      shape: { x: f(810), y: f(384.7), width: f(28.4), height: f(13.3), r: f(2) },
      style: { fill: "#ececec", shadowBlur: f(3), shadowColor: "rgba(0,0,0,0.3)" },
    },
    txt("Paste", 824.2, 391.3, 7.5, { family: SANS, fill: "#333" }),
    txt("C", 36.3, 457.4, 36),
    txt("★", 913, 712, 22, { family: STARF, fill: RED }),
    txt("Metabolomics", 935, 712, 12.5, { family: OPEN, align: "left", fill: "#222" }),
    txt("★", 913, 738, 22, { family: STARF, fill: GREEN }),
    txt("Lipidomics", 935, 738, 12.5, { family: OPEN, align: "left", fill: "#222" }),
    {
      type: "rect", silent: true, z: 50,
      shape: { x: f(935), y: f(769.3), width: f(196.6), height: f(38.2), r: f(7) },
      style: { fill: { type: "linear", x: 0, y: 0, x2: 1, y2: 0, colorStops: gradStops } },
    },
    txt("low", 939, 789, 7.5, { family: SANS, align: "left", fill: "#6f6a3a" }),
    txt("high", 1128, 789, 7.5, { family: SANS, align: "right", fill: "#d8dcf4" }),
    txt("-log(P-Value)", 1033, 823, 8.5, { family: SANS, weight: "bold", fill: "#333" }),
    {
      type: "rect", silent: true, z: 50,
      shape: { x: f(934.6), y: f(862.6), width: f(30), height: f(36.4), r: f(6) },
      style: { fill: "#2f4aa8" },
    },
    txt("GO/KEGG Term", 949.6, 913.4, 7.5, { family: SANS, weight: "bold", fill: "#444" }),
    {
      type: "ellipse", silent: true, z: 50,
      shape: { cx: f(949.6), cy: f(953.6), rx: f(12.4), ry: f(14.4) },
      style: { fill: "#8a8a8a" },
    },
    txt("Protein / Gene", 949.6, 986, 7.5, { family: SANS, weight: "bold", fill: "#444" }),
    {
      type: "line", silent: true, z: 50,
      shape: { x1: f(1024.6), y1: f(897), x2: f(1087), y2: f(897) },
      style: { stroke: "#8f99ad", lineWidth: f(1.6), lineDash: [f(1.5), f(1.5)] },
    },
    txt("go pathway", 1024.6, 908.5, 7.5, { family: SANS, weight: "bold", align: "left", fill: "#444" }),
    {
      type: "line", silent: true, z: 50,
      shape: { x1: f(1024.6), y1: f(926.4), x2: f(1087), y2: f(926.4) },
      style: { stroke: "#74c4f0", lineWidth: f(1.6), lineDash: [f(1.5), f(1.5)] },
    },
    txt("kegg pathway", 1024, 938.3, 7.5, { family: SANS, weight: "bold", align: "left", fill: "#444" }),
    txt("D", 38.8, 1045, 36, { weight: "bold" }),
    txt("Ugt-2B1", 286.5, 1077, 16.5, { weight: "bold", style: "italic" }),
    txt("Ugt-2b", 647.7, 1078, 16.5, { weight: "bold", style: "italic" }),
    txt("Ugt-2b10", 269.9, 1332.7, 16.5, { weight: "bold", style: "italic" }),
    txt("Ugp-2", 647.2, 1335.2, 16.5, { weight: "bold", style: "italic" }),
  ];

  return { animation: false, backgroundColor: "#ffffff", grid, xAxis, yAxis, series, graphic };
}

export default function App() {
  const ref = useRef<HTMLDivElement>(null);
  useEffect(() => {
    document.body.style.margin = "0";
    if (!ref.current) return;
    const chart = echarts.init(ref.current, undefined, { renderer: "svg", width: W, height: H });
    chart.setOption(buildOption());
    return () => chart.dispose();
  }, []);
  return <div ref={ref} style={{ position: "absolute", left: 0, top: 0, width: W, height: H, background: "#fff" }} />;
}
